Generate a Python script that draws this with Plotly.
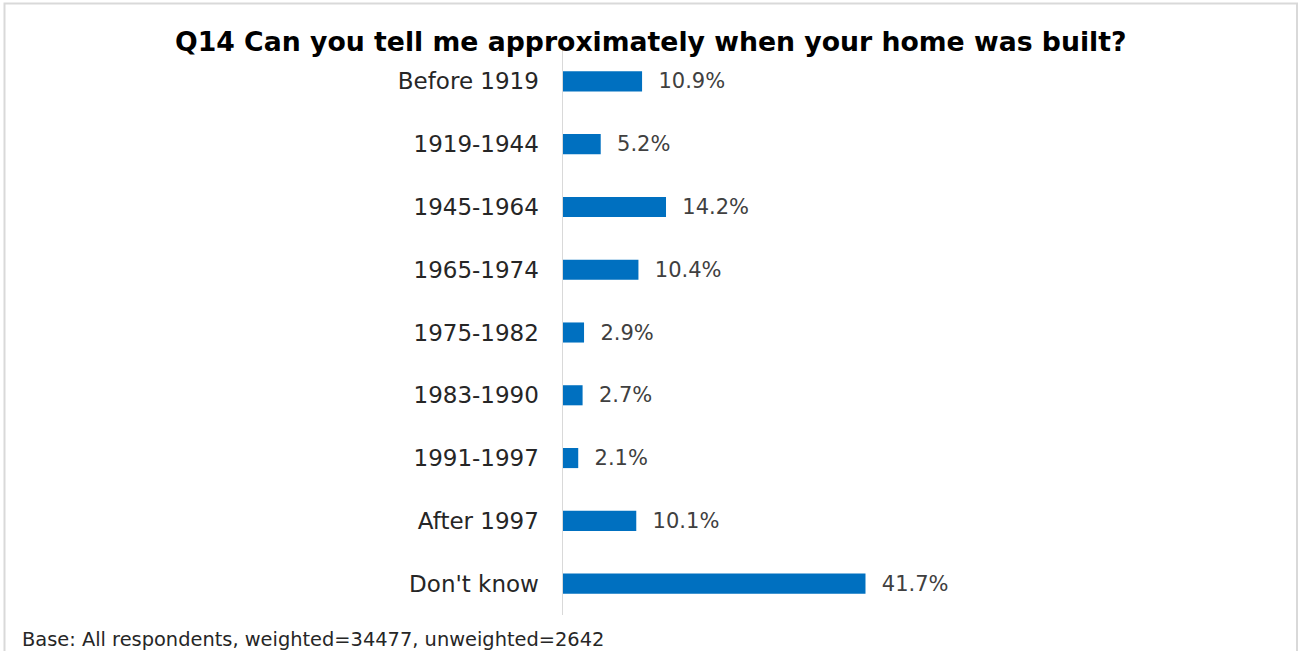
import plotly.graph_objects as go

categories = ["Before 1919", "1919-1944", "1945-1964", "1965-1974", "1975-1982",
              "1983-1990", "1991-1997", "After 1997", "Don't know"]
values = [10.9, 5.2, 14.2, 10.4, 2.9, 2.7, 2.1, 10.1, 41.7]
title_text = "Q14 Can you tell me approximately when your home was built?"
footer_text = "Base: All respondents, weighted=34477, unweighted=2642"

W, H = 1300, 651
FONT = "DejaVu Sans"

def px_x(p):
    return p / W

def px_y(p):
    return 1 - p / H

plot_left, plot_right = 563, 563 + 50 * 7.254
plot_top, plot_bottom = 50, 615

fig = go.Figure()
fig.add_trace(go.Bar(
    y=categories, x=values, orientation="h",
    marker=dict(color="#0070C0", line=dict(width=0)),
    width=0.32,
    text=["\u00a0\u00a0" + f"{v:.1f}%" for v in values],
    textposition="outside",
    constraintext="none",
    textfont=dict(family=FONT, size=21, color="#404040"),
    cliponaxis=False,
    hoverinfo="skip",
))

fig.update_layout(
    width=W, height=H,
    margin=dict(l=0, r=0, t=0, b=0),
    paper_bgcolor="white", plot_bgcolor="white",
    showlegend=False,
    xaxis=dict(domain=[px_x(plot_left), px_x(plot_right)], range=[0, 50],
               showgrid=False, zeroline=False, showline=False,
               showticklabels=False, ticks="", fixedrange=True),
    yaxis=dict(domain=[px_y(plot_bottom), px_y(plot_top)],
               categoryorder="array", categoryarray=categories,
               range=[8.5, -0.5], autorange=False,
               showgrid=False, zeroline=False,
               showline=True, linecolor="#D9D9D9", linewidth=1.5,
               ticks="", ticklabelstandoff=18,
               tickfont=dict(family=FONT, size=23, color="#262626")),
    shapes=[dict(type="rect", xref="paper", yref="paper",
                 x0=px_x(4.5), x1=px_x(1297), y0=px_y(665), y1=px_y(3.5),
                 line=dict(color="#D9D9D9", width=2), fillcolor="rgba(0,0,0,0)",
                 layer="below")],
    annotations=[
        dict(text="<b>" + title_text + "</b>", xref="paper", yref="paper",
             x=px_x(651), y=px_y(41), xanchor="center", yanchor="middle",
             showarrow=False, font=dict(family=FONT, size=26.7, color="#000000")),
        dict(text=footer_text, xref="paper", yref="paper",
             x=px_x(20), y=px_y(639), xanchor="left", yanchor="middle",
             showarrow=False, font=dict(family=FONT, size=19.4, color="#262626")),
    ],
)

fig.write_html(
    "out.html",
    config={"displayModeBar": False, "staticPlot": True},
    post_script="document.body.style.margin='0px';document.body.style.overflow='hidden';",
)
